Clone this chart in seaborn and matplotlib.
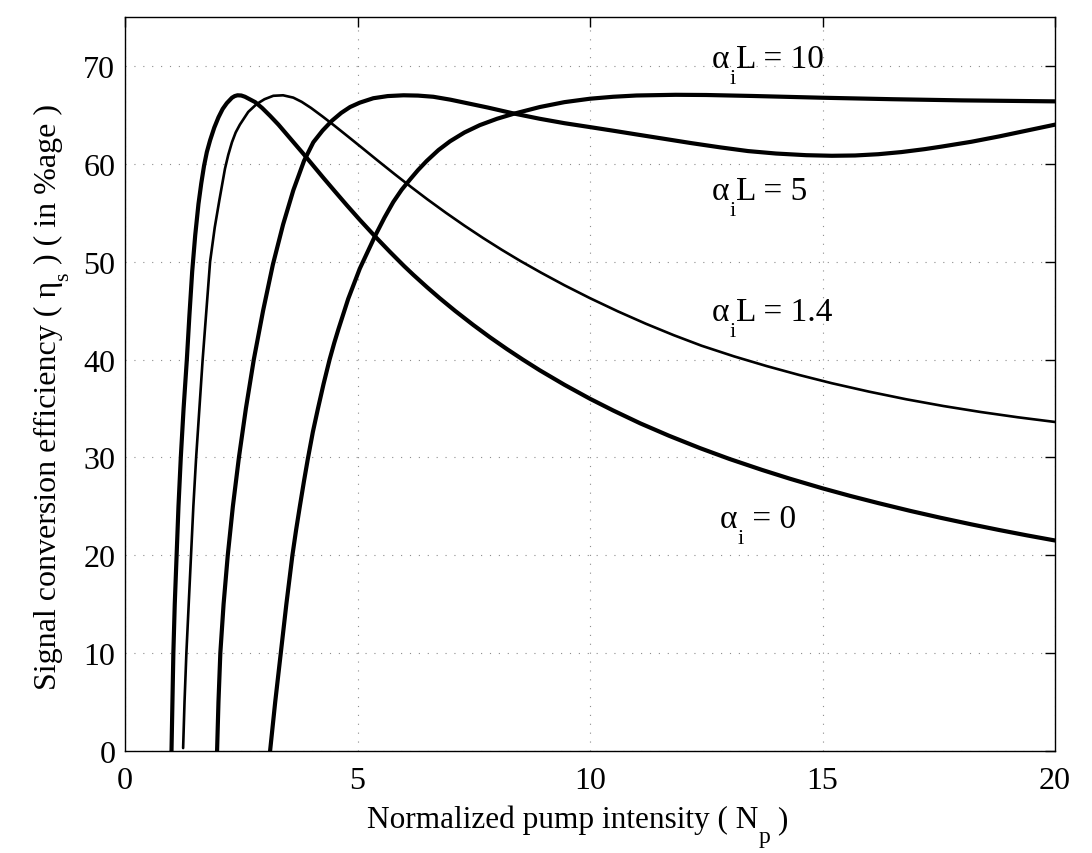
import numpy as np
import pandas as pd
import matplotlib
matplotlib.use("Agg")
import matplotlib.pyplot as plt
from matplotlib.transforms import IdentityTransform
import seaborn as sns

# ---- data ----
# alpha_i = 0
x_a0 = [1.00, 1.02, 1.04, 1.07, 1.11, 1.15, 1.20, 1.26, 1.33, 1.385, 1.445, 1.51, 1.58, 1.64, 1.70,
        1.76, 1.83, 1.92, 2.01, 2.10, 2.19, 2.30, 2.36, 2.42, 2.50, 2.58, 2.80, 2.95, 3.12, 3.30,
        3.48, 3.66, 3.84, 4.05, 4.26, 4.50, 4.77, 5.05, 5.38, 5.70, 6.00, 6.20, 6.50, 6.77, 7.10,
        7.49, 7.85, 8.21, 8.55, 8.92, 9.45, 10.0, 10.5, 11.08, 11.7, 12.37, 13.0, 13.7, 14.3, 15.0,
        15.6, 16.2, 16.9, 17.55, 18.2, 18.8, 19.4, 20.0]
y_a0 = [0.0, 5.0, 10.0, 15.0, 20.0, 25.0, 30.0, 35.0, 40.0, 44.5, 49.0, 52.7, 55.9, 58.0, 59.8,
        61.2, 62.4, 63.7, 64.75, 65.6, 66.2, 66.75, 66.92, 67.0, 66.98, 66.85, 66.3, 65.7, 64.9, 64.0,
        63.0, 62.0, 61.0, 59.8, 58.6, 57.26, 55.77, 54.27, 52.57, 50.99, 49.56, 48.66, 47.37, 46.26, 44.97,
        43.53, 42.27, 41.08, 40.01, 38.9, 37.42, 35.99, 34.79, 33.48, 32.21, 30.94, 29.84, 28.72, 27.82, 26.84,
        26.06, 25.33, 24.52, 23.82, 23.16, 22.58, 22.03, 21.51]

# alpha_i L = 1.4
x_a14 = [1.25, 1.28, 1.32, 1.37, 1.42, 1.47, 1.53, 1.60, 1.67, 1.75, 1.83, 1.93, 2.03, 2.15, 2.22,
         2.30, 2.38, 2.47, 2.65, 2.83, 3.00, 3.19, 3.40, 3.62, 3.80, 4.00, 4.25, 4.50, 4.80, 5.10,
         5.45, 5.80, 6.15, 6.50, 6.90, 7.30, 7.70, 8.10, 8.50, 8.95, 9.45, 10.0, 10.6, 11.2, 11.8,
         12.4, 13.1, 13.8, 14.5, 15.2, 16.0, 16.8, 17.6, 18.4, 19.2, 20.0]
y_a14 = [0.3, 5.0, 10.0, 15.0, 20.0, 25.0, 30.0, 35.0, 40.0, 45.0, 50.0, 53.5, 56.3, 59.5, 60.9,
         62.2, 63.2, 64.0, 65.3, 66.1, 66.6, 66.95, 67.0, 66.76, 66.33, 65.71, 64.83, 63.91, 62.77, 61.62,
         60.27, 58.94, 57.64, 56.38, 55.0, 53.68, 52.42, 51.22, 50.08, 48.87, 47.59, 46.27, 44.92, 43.66, 42.49,
         41.41, 40.32, 39.33, 38.42, 37.58, 36.72, 35.94, 35.25, 34.64, 34.10, 33.62]

# alpha_i L = 5
x_a5 = [1.98, 2.01, 2.05, 2.12, 2.21, 2.32, 2.45, 2.60, 2.77, 2.97, 3.18, 3.40, 3.62, 3.85, 4.05,
        4.25, 4.45, 4.65, 4.84, 5.05, 5.34, 5.65, 5.99, 6.30, 6.63, 7.00, 7.35, 7.80, 8.35, 8.92,
        9.45, 10.0, 10.5, 11.0, 11.6, 12.17, 12.8, 13.4, 14.0, 14.65, 15.2, 15.7, 16.2, 16.7, 17.2,
        17.55, 18.2, 18.8, 19.4, 20.0]
y_a5 = [0.0, 5.0, 10.0, 15.0, 20.0, 25.0, 30.0, 35.0, 40.0, 45.0, 49.7, 53.8, 57.3, 60.3, 62.2,
        63.4, 64.4, 65.2, 65.8, 66.25, 66.7, 66.92, 67.0, 66.97, 66.85, 66.55, 66.2, 65.75, 65.15, 64.6,
        64.15, 63.75, 63.38, 63.0, 62.55, 62.12, 61.68, 61.3, 61.05, 60.88, 60.82, 60.85, 60.98, 61.2, 61.5,
        61.75, 62.25, 62.8, 63.4, 64.0]

# alpha_i L = 10
x_a10 = [3.12, 3.23, 3.35, 3.47, 3.60, 3.68, 3.76, 3.85, 3.93, 4.04, 4.15, 4.27, 4.40, 4.50, 4.59,
         4.80, 5.05, 5.38, 5.58, 5.77, 5.95, 6.13, 6.30, 6.49, 6.74, 6.99, 7.30, 7.63, 8.00, 8.35,
         8.92, 9.45, 10.0, 10.5, 11.0, 11.84, 12.5, 13.5, 15.0, 16.5, 18.0, 20.0]
y_a10 = [0.0, 5.0, 10.0, 15.0, 20.0, 22.6, 25.0, 27.6, 29.8, 32.6, 35.0, 37.5, 40.0, 41.7, 43.1,
         46.2, 49.3, 52.65, 54.5, 56.1, 57.35, 58.4, 59.35, 60.3, 61.4, 62.3, 63.2, 63.95, 64.6, 65.1,
         65.8, 66.3, 66.65, 66.85, 66.98, 67.05, 67.03, 66.93, 66.75, 66.6, 66.48, 66.38]

# curve labels: subscript, rest, anchor (data units, baseline-left of alpha)
label_sub = ["i", "i", "i", "i"]
label_rest = ["L = 10", "L = 5", "L = 1.4", " = 0"]
label_x = [12.62, 12.62, 12.62, 12.80]
label_y = [69.9, 56.4, 44.0, 22.9]

x_ticks = [0, 5, 10, 15, 20]
y_ticks = [0, 10, 20, 30, 40, 50, 60, 70]

# ---- style ----
sns.set_theme(style="white")
plt.rcParams["font.family"] = ["Liberation Serif", "DejaVu Serif"]
plt.rcParams["text.color"] = "black"
plt.rcParams["axes.labelcolor"] = "black"

W, H = 1092, 854
fig = plt.figure(figsize=(W / 100, H / 100), dpi=100)
ax = fig.add_axes([125 / W, 1 - 752 / H, 930 / W, 734 / H])

curves = [(x_a0, y_a0, 3.0), (x_a14, y_a14, 1.9), (x_a5, y_a5, 3.0), (x_a10, y_a10, 3.0)]
for xs, ys, lw in curves:
    df = pd.DataFrame({"x": xs, "y": ys})
    sns.lineplot(data=df, x="x", y="y", ax=ax, color="black", linewidth=lw,
                 sort=False, estimator=None)

ax.set_xlim(0, 20)
ax.set_ylim(0, 75)
ax.set_xticks(x_ticks)
ax.set_yticks(y_ticks)
ax.grid(True, linestyle=(0, (1, 7)), color="#8c8c8c", linewidth=0.8)
ax.tick_params(direction="in", length=7, width=1, top=True, right=True,
               labelsize=23, colors="black")
ax.tick_params(axis="x", pad=11)
ax.tick_params(axis="y", pad=7)
for s in ax.spines.values():
    s.set_visible(True)
    s.set_color("black")
    s.set_linewidth(1.0)
ax.set_xlabel("")
ax.set_ylabel("")

renderer = fig.canvas.get_renderer()


def rich(x0, y0, pieces, rotation=0):
    """Draw pieces of text one after another in pixel coords (origin bottom-left).
    pieces: (text, fontsize, drop_px). Drop moves a piece below the baseline."""
    adv = 0.0
    for s, size, drop in pieces:
        if rotation == 0:
            px, py = x0 + adv, y0 - drop
        else:
            px, py = x0 + drop, y0 + adv
        t = fig.text(px, py, s, fontsize=size, transform=IdentityTransform(),
                     ha="left", va="baseline", rotation=rotation,
                     rotation_mode="anchor", color="black")
        bb = t.get_window_extent(renderer)
        adv += bb.width if rotation == 0 else bb.height


for sub, rest, lx, ly in zip(label_sub, label_rest, label_x, label_y):
    dx, dy = ax.transData.transform((lx, ly))
    rich(dx, dy, [("α", 24, 0), (sub, 16, 16), (rest, 24, 0)])

# x label
rich(367, H - 828, [("Normalized pump intensity ( N", 22.5, 0), ("p", 17, 15), (" )", 22.5, 0)])
# y label (rotated)
rich(56, H - 690, [("Signal conversion efficiency ( η", 23, 0), ("s", 16, 12),
                   (" ) ( in %age )", 23, 0)], rotation=90)

fig.savefig("out.png", dpi=100)
